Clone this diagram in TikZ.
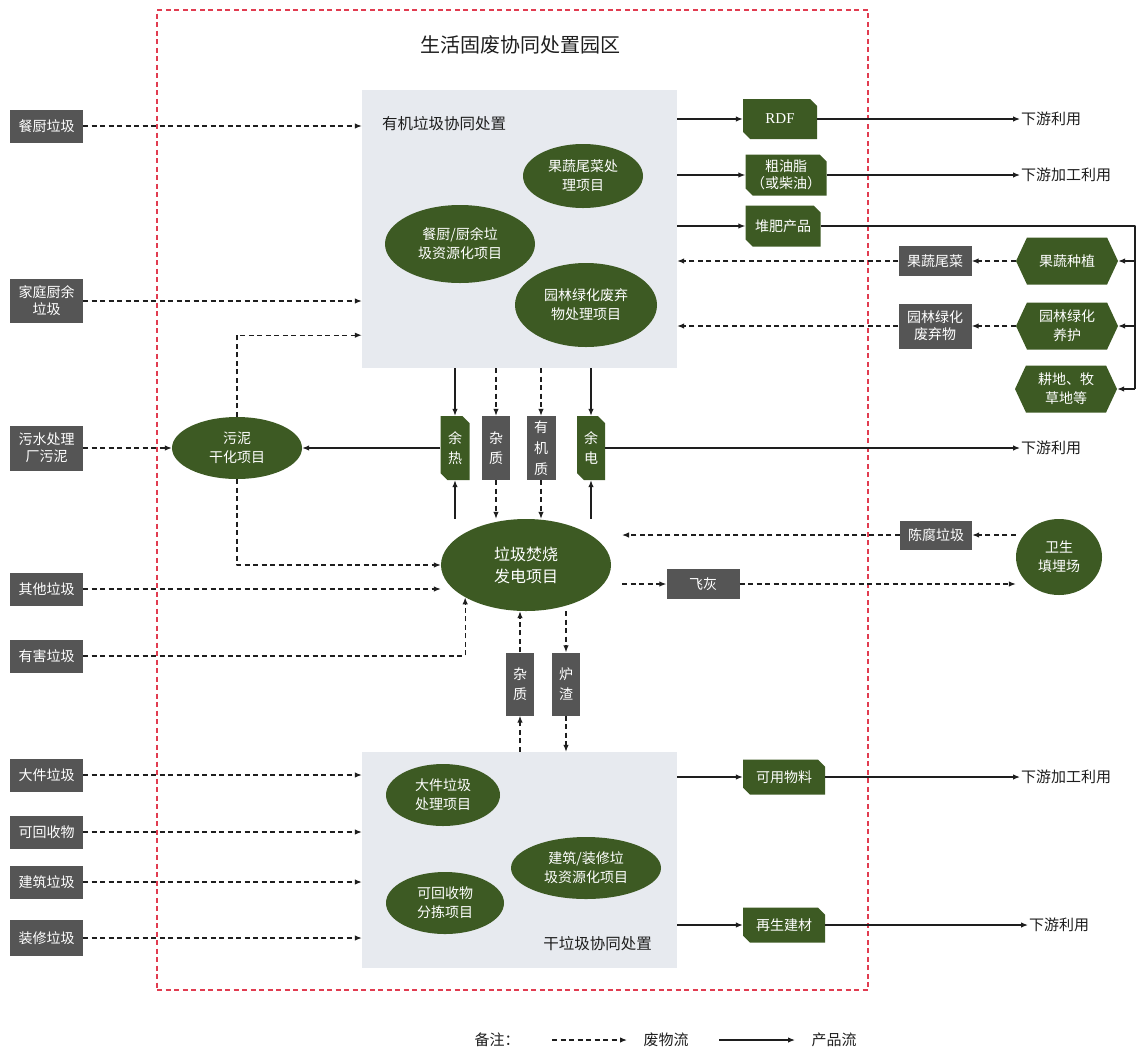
\documentclass[tikz,border=0pt]{standalone}
\usepackage{fontspec}
\setmainfont{Noto Sans CJK SC}
\newfontfamily\rdffont{Liberation Serif}
\usetikzlibrary{arrows.meta,shapes.geometric,shapes.misc,shapes.symbols}
\definecolor{leaf}{RGB}{61,90,35}
\definecolor{slate}{RGB}{85,85,85}
\definecolor{panelgray}{RGB}{231,234,239}
\definecolor{parkred}{RGB}{225,60,80}
\definecolor{ink}{RGB}{30,30,30}

\begin{document}
\begin{tikzpicture}[x=1pt,y=-1pt,>={Latex[length=7pt,width=5.5pt]},line join=round,
  waste/.style={->,line width=1.2pt,draw=ink,dash pattern=on 5pt off 3.5pt},
  product/.style={->,line width=1.2pt,draw=ink},
  srcbox/.style={fill=slate,text=white,minimum width=73pt,minimum height=33pt,inner sep=1pt,align=center,font=\fontsize{14}{17}\selectfont},
  greyitem/.style={fill=slate,text=white,inner sep=1pt,align=center,font=\fontsize{14}{17}\selectfont},
  greenitem/.style={chamfered rectangle,chamfered rectangle corners={north east,south west},chamfered rectangle xsep=3.5pt,chamfered rectangle ysep=3.5pt,fill=leaf,text=white,inner sep=1pt,align=center,font=\fontsize{14}{17}\selectfont},
  project/.style={ellipse,fill=leaf,text=white,inner sep=0pt,align=center,font=\fontsize{14}{19}\selectfont},
  hexitem/.style={signal,signal to=east and west,signal pointer angle=130,fill=leaf,text=white,inner sep=1pt,align=center,minimum width=102pt,minimum height=47pt,font=\fontsize{14}{19}\selectfont},
  panel/.style={fill=panelgray,minimum width=315pt},
  outtext/.style={anchor=west,text=ink,inner sep=1pt,font=\fontsize{15}{18}\selectfont}]
\useasboundingbox (0,0) rectangle (1137,1053);
\node[draw=parkred,line width=1.2pt,dash pattern=on 5pt off 3.5pt,minimum width=711pt,minimum height=980pt] (park) at (512.5,500) {};
\node[text=ink,font=\fontsize{20}{24}\selectfont] (title) at (520,45) {生活固废协同处置园区};
% organic part
\node[panel,minimum height=278pt] (organic) at (519.5,229) {};
\node[text=ink,anchor=west,inner sep=0pt,font=\fontsize{15.5}{18}\selectfont] (organic-t) at (382,124) {有机垃圾协同处置};
\node[project,minimum width=120pt,minimum height=64pt] (veg) at (583,176) {果蔬尾菜处\\理项目};
\node[project,minimum width=150pt,minimum height=78pt] (food) at (460,244) {餐厨/厨余垃\\圾资源化项目};
\node[project,minimum width=142pt,minimum height=84pt] (garden) at (586,305) {园林绿化废弃\\物处理项目};
% dry part
\node[panel,minimum height=216pt] (dry) at (519.5,860) {};
\node[text=ink,anchor=east,inner sep=0pt,font=\fontsize{15.5}{18}\selectfont] (dry-t) at (652,944) {干垃圾协同处置};
\node[project,minimum width=114pt,minimum height=62pt] (bulky) at (443,795) {大件垃圾\\处理项目};
\node[project,minimum width=118pt,minimum height=62pt] (sorting) at (445,903) {可回收物\\分拣项目};
\node[project,minimum width=150pt,minimum height=62pt] (rubble) at (586,868) {建筑/装修垃\\圾资源化项目};
% incineration and sludge
\node[project,minimum width=170pt,minimum height=92pt,font=\fontsize{16}{22}\selectfont] (incin) at (526,565) {垃圾焚烧\\发电项目};
\node[project,minimum width=130pt,minimum height=62pt] (sludge) at (237,448) {污泥\\干化项目};
\node[greenitem,minimum width=29pt,minimum height=64pt,font=\fontsize{14}{20}\selectfont] (heat) at (455,448) {余\\热};
\node[greyitem,minimum width=28pt,minimum height=64pt,font=\fontsize{14}{20}\selectfont] (impa) at (496,448) {杂\\质};
\node[greyitem,minimum width=29pt,minimum height=64pt,font=\fontsize{14}{21}\selectfont] (orgm) at (541,448) {有\\机\\质};
\node[greenitem,minimum width=28pt,minimum height=64pt,font=\fontsize{14}{20}\selectfont] (power) at (591,448) {余\\电};
\node[greyitem,minimum width=28pt,minimum height=63pt,font=\fontsize{14}{20}\selectfont] (impb) at (520,684) {杂\\质};
\node[greyitem,minimum width=28pt,minimum height=63pt,font=\fontsize{14}{20}\selectfont] (slag) at (566,684) {炉\\渣};
% sources
\node[srcbox] (kitchen) at (46.5,126) {餐厨垃圾};
\node[srcbox,minimum height=44pt] (household) at (46.5,301) {家庭厨余\\垃圾};
\node[srcbox,minimum height=45pt] (sewage) at (46.5,448) {污水处理\\厂污泥};
\node[srcbox] (other) at (46.5,589) {其他垃圾};
\node[srcbox] (hazard) at (46.5,656) {有害垃圾};
\node[srcbox] (bulkysrc) at (46.5,775) {大件垃圾};
\node[srcbox] (recyc) at (46.5,832) {可回收物};
\node[srcbox] (build) at (46.5,882) {建筑垃圾};
\node[srcbox,minimum height=36pt] (decor) at (46.5,938) {装修垃圾};
% products and outer nodes
\node[greenitem,minimum width=74pt,minimum height=40pt,font=\rdffont\fontsize{15}{18}\selectfont] (rdf) at (780,119) {RDF};
\node[greenitem,minimum width=81pt,minimum height=41pt] (oil) at (786,175) {粗油脂\\（或柴油）};
\node[greenitem,minimum width=75pt,minimum height=41pt] (compost) at (783,226) {堆肥产品};
\node[greyitem,minimum width=73pt,minimum height=30pt] (vegwaste) at (935,261) {果蔬尾菜};
\node[greyitem,minimum width=73pt,minimum height=45pt] (gardenwaste) at (935,326) {园林绿化\\废弃物};
\node[hexitem] (plant) at (1067,261) {果蔬种植};
\node[hexitem] (care) at (1067,326) {园林绿化\\养护};
\node[hexitem] (farm) at (1066,389) {耕地、牧\\草地等};
\node[greyitem,minimum width=72pt,minimum height=29pt] (stale) at (936,535) {陈腐垃圾};
\node[project,minimum width=86pt,minimum height=76pt] (landfill) at (1059,557) {卫生\\填埋场};
\node[greyitem,minimum width=73pt,minimum height=30pt] (flyash) at (703,584) {飞灰};
\node[greenitem,minimum width=82pt,minimum height=35pt] (usable) at (784,777) {可用物料};
\node[greenitem,minimum width=82pt,minimum height=35pt] (newmat) at (784,925) {再生建材};
\node[outtext] (use-rdf) at (1020,119) {下游利用};
\node[outtext] (use-oil) at (1020,175) {下游加工利用};
\node[outtext] (use-power) at (1020,448) {下游利用};
\node[outtext] (use-usable) at (1020,777) {下游加工利用};
\node[outtext] (use-newmat) at (1028,925) {下游利用};
\coordinate (bus) at (1135,226);
\coordinate (stale-in) at (622,535);
\coordinate (ash-out) at (622,584);
% waste flows
\draw[waste] (kitchen.east) -- (organic.west |- kitchen.east);
\draw[waste] (household.east) -- (organic.west |- household.east);
\draw[waste] (sewage.east) -- (sludge.west);
\draw[waste] (sludge.north) |- ([yshift=33pt]organic.south west);
\draw[waste] (sludge.south) |- (incin.west);
\draw[waste] (other.east) -- (other.east -| incin.west);
\draw[waste] (hazard.east) -| (incin.208);
\draw[waste] (bulkysrc.east) -- (dry.west |- bulkysrc.east);
\draw[waste] (recyc.east) -- (dry.west |- recyc.east);
\draw[waste] (build.east) -- (dry.west |- build.east);
\draw[waste] (decor.east) -- (dry.west |- decor.east);
\draw[waste] (organic.south -| impa.north) -- (impa.north);
\draw[waste] (impa.south) -- (impa.south |- incin.north);
\draw[waste] (organic.south -| orgm.north) -- (orgm.north);
\draw[waste] (orgm.south) -- (orgm.south |- incin.north);
\draw[waste] (dry.north -| impb.south) -- (impb.south);
\draw[waste] (impb.north) -- (impb.north |- incin.south);
\draw[waste] (slag.north |- incin.south) -- (slag.north);
\draw[waste] (slag.south) -- (slag.south |- dry.north);
\draw[waste] (plant.west) -- (vegwaste.east);
\draw[waste] (vegwaste.west) -- (organic.east |- vegwaste.west);
\draw[waste] (care.west) -- (gardenwaste.east);
\draw[waste] (gardenwaste.west) -- (organic.east |- gardenwaste.west);
\draw[waste] (landfill.west |- stale.east) -- (stale.east);
\draw[waste] (stale.west) -- (stale-in);
\draw[waste] (ash-out) -- (flyash.west);
\draw[waste] (flyash.east) -- (landfill.west |- flyash.east);
% product flows
\draw[product] (organic.east |- rdf.west) -- (rdf.west);
\draw[product] (rdf.east) -- (use-rdf.west);
\draw[product] (organic.east |- oil.west) -- (oil.west);
\draw[product] (oil.east) -- (use-oil.west);
\draw[product] (organic.east |- compost.west) -- (compost.west);
\draw[line width=1.2pt,draw=ink] (compost.east) -- (bus) -- (bus |- farm.east);
\draw[product] (bus |- plant.east) -- (plant.east);
\draw[product] (bus |- care.east) -- (care.east);
\draw[product] (bus |- farm.east) -- (farm.east);
\draw[product] (organic.south -| heat.north) -- (heat.north);
\draw[product] (heat.south |- incin.north) -- (heat.south);
\draw[product] (organic.south -| power.north) -- (power.north);
\draw[product] (power.south |- incin.north) -- (power.south);
\draw[product] (heat.west) -- (sludge.east);
\draw[product] (power.east) -- (use-power.west);
\draw[product] (dry.east |- usable.west) -- (usable.west);
\draw[product] (usable.east) -- (use-usable.west);
\draw[product] (dry.east |- newmat.west) -- (newmat.west);
\draw[product] (newmat.east) -- (use-newmat.west);
% legend
\node[text=ink,font=\fontsize{15}{18}\selectfont] (note) at (497,1040) {备注：};
\node[text=ink,font=\fontsize{15}{18}\selectfont] (waste-t) at (666,1040) {废物流};
\node[text=ink,font=\fontsize{15}{18}\selectfont] (product-t) at (834,1040) {产品流};
\coordinate (lw1) at (552,1040);
\coordinate (lw2) at (627,1040);
\coordinate (lp1) at (719,1040);
\coordinate (lp2) at (795,1040);
\draw[waste] (lw1) -- (lw2);
\draw[product] (lp1) -- (lp2);
\end{tikzpicture}
\end{document}
